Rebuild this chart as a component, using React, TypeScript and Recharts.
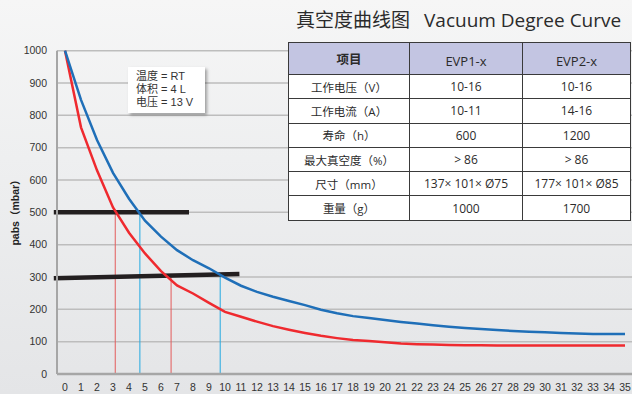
import React from "react";
import { LineChart, Line, XAxis, YAxis, CartesianGrid, ReferenceLine } from "recharts";

const timeTicks = [0,1,2,3,4,5,6,7,8,9,10,11,12,13,14,15,16,17,18,19,20,21,22,23,24,25,26,27,28,29,30,31,32,33,34,35];
const evp2Values = [1000,848,724,622,542,474,425,383,352,327,298,273,254,239,226,213,199,188,179,173,167,161,156,151,146,142,139,136,133,131,129,127,125,124,124,124];
const evp1Values = [1000,763,630,515,437,373,318,274,249,220,192,177,162,148,137,127,118,111,105,102,98,94,92,91,90,89,89,88,88,88,88,88,88,88,88,88];
const pressureTicks = [0,100,200,300,400,500,600,700,800,900,1000];

const blackLine1 = [{ x: -0.7, y: 500 }, { x: 7.75, y: 500 }];
const blackLine2 = [{ x: -0.7, y: 296 }, { x: 10.9, y: 309 }];
const redDrop1 = [{ x: 3.14, y: 0 }, { x: 3.14, y: 500 }];
const blueDrop1 = [{ x: 4.68, y: 0 }, { x: 4.68, y: 500 }];
const redDrop2 = [{ x: 6.63, y: 0 }, { x: 6.63, y: 303 }];
const blueDrop2 = [{ x: 9.7, y: 0 }, { x: 9.7, y: 307 }];

const tableHeader = ["项目", "EVP1-x", "EVP2-x"];
const tableRows = [
  ["工作电压（V）", "10-16", "10-16"],
  ["工作电流（A）", "10-11", "14-16"],
  ["寿命（h）", "600", "1200"],
  ["最大真空度（%）", "> 86", "> 86"],
  ["尺寸（mm）", "137× 101× Ø75", "177× 101× Ø85"],
  ["重量（g）", "1000", "1700"],
];
const noteLines = ["温度 = RT", "体积 = 4 L", "电压 = 13 V"];

const data = timeTicks.map((t, i) => ({ t, evp1: evp1Values[i], evp2: evp2Values[i] }));

const sans = "'Liberation Sans', 'Noto Sans CJK SC', sans-serif";
const tableFont = "'Open Sans', 'Noto Sans CJK SC', sans-serif";

export default function App() {
  const colW = [121, 113, 108];
  const cellBorder = "1px solid #3a3a3a";
  return (
    <div style={{ position: "absolute", left: 0, top: 0, width: 632, height: 394, overflow: "hidden",
      background: "linear-gradient(180deg, #f6f6f6 0%, #eeeff0 40%, #e4e5e7 100%)" }}>
      <LineChart width={640} height={394} data={data} margin={{ top: 50.7, right: 7, bottom: 0, left: 0 }}>
        <CartesianGrid vertical={false} stroke="#bdbdbd" strokeWidth={1.5} />
        <XAxis dataKey="t" type="number" domain={[-0.5, 35.5]} ticks={timeTicks} interval={0}
          height={20} tickLine={false} tickSize={6} tickMargin={4}
          axisLine={{ stroke: "#a6a6a6", strokeWidth: 2.5 }}
          tick={{ fill: "#333", fontSize: 10.5, fontFamily: sans }} allowDataOverflow />
        <YAxis type="number" domain={[0, 1000]} ticks={pressureTicks} interval={0} width={57}
          tickLine={false} tickSize={6} tickMargin={4}
          axisLine={{ stroke: "#a6a6a6", strokeWidth: 2 }}
          tick={{ fill: "#333", fontSize: 10.5, fontFamily: sans }} />
        <ReferenceLine segment={redDrop1} stroke="#e35b5b" strokeWidth={1} ifOverflow="visible" />
        <ReferenceLine segment={blueDrop1} stroke="#22a9e1" strokeWidth={1} ifOverflow="visible" />
        <ReferenceLine segment={redDrop2} stroke="#e35b5b" strokeWidth={1} ifOverflow="visible" />
        <ReferenceLine segment={blueDrop2} stroke="#22a9e1" strokeWidth={1} ifOverflow="visible" />
        <ReferenceLine segment={blackLine1} stroke="#231f20" strokeWidth={4.5} ifOverflow="visible" />
        <ReferenceLine segment={blackLine2} stroke="#231f20" strokeWidth={4.5} ifOverflow="visible" />
        <Line type="linear" dataKey="evp1" stroke="#ef2a2f" strokeWidth={2.5} dot={false} isAnimationActive={false} />
        <Line type="linear" dataKey="evp2" stroke="#1f6fb8" strokeWidth={2.5} dot={false} isAnimationActive={false} />
      </LineChart>

      <div style={{ position: "absolute", left: 4, top: 210, transform: "translate(-50%, -50%) rotate(-90deg)",
        transformOrigin: "center", marginLeft: 10, whiteSpace: "nowrap", fontFamily: sans, fontWeight: "bold",
        fontSize: 10.5, color: "#222" }}>pabs（mbar）</div>

      <div style={{ position: "absolute", left: 296, top: 5, whiteSpace: "nowrap", color: "#2b2b2b",
        fontSize: 19, fontFamily: tableFont, lineHeight: "28px" }}>
        <span style={{ fontFamily: "'Noto Sans CJK SC', sans-serif" }}>真空度曲线图</span>
        <span style={{ marginLeft: 14 }}>Vacuum Degree Curve</span>
      </div>

      <div style={{ position: "absolute", left: 128, top: 67, width: 77, height: 46, background: "#fff",
        boxShadow: "2px 2px 3px rgba(0,0,0,0.35)", fontFamily: sans, fontSize: 11, color: "#333",
        boxSizing: "border-box", padding: "3px 0 0 8px", lineHeight: "13px" }}>
        {noteLines.map((l) => (<div key={l} style={{ whiteSpace: "nowrap" }}>{l}</div>))}
      </div>

      <table style={{ position: "absolute", left: 288, top: 42, borderCollapse: "collapse", tableLayout: "fixed",
        width: 343, fontFamily: tableFont, color: "#2b2b2b", background: "#fff" }}>
        <colgroup>{colW.map((w, i) => (<col key={i} style={{ width: w }} />))}</colgroup>
        <tbody>
          <tr style={{ height: 32, background: "#c3c5e2" }}>
            {tableHeader.map((h, i) => (
              <td key={h} style={{ border: cellBorder, textAlign: "center", padding: 0, fontSize: i === 0 ? 12.5 : 13,
                fontWeight: i === 0 ? "bold" : "normal", paddingTop: i === 0 ? 0 : 4 }}>{h}</td>
            ))}
          </tr>
          {tableRows.map((r) => (
            <tr key={r[0]} style={{ height: 24.3 }}>
              {r.map((c, i) => (
                <td key={i} style={{ border: cellBorder, textAlign: "center", padding: 0, whiteSpace: "nowrap",
                  fontSize: i === 0 ? 11.5 : 12 }}>{c}</td>
              ))}
            </tr>
          ))}
        </tbody>
      </table>
    </div>
  );
}
